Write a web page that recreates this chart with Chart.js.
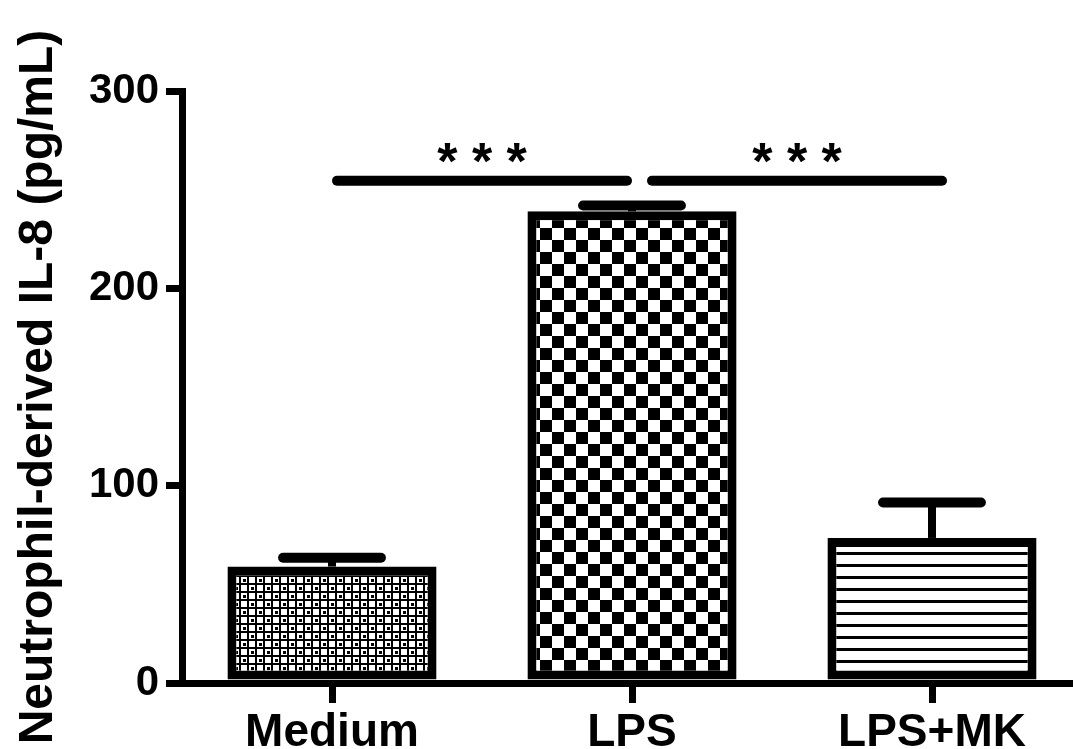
<!DOCTYPE html>
<html>
<head>
<meta charset="utf-8">
<script src="https://cdn.jsdelivr.net/npm/chart.js@4.4.1/dist/chart.umd.min.js"></script>
<style>
  html, body { margin: 0; padding: 0; background: #fff; overflow: hidden; width: 1073px; height: 749px; }
  canvas { display: block; }
</style>
</head>
<body>
<canvas id="chart" width="1100" height="749"></canvas>
<script>
// Group labels and measured IL-8 (mean and SEM, pg/mL)
const categories = ['Medium', 'LPS', 'LPS+MK'];
const meanValues = [59, 239, 73.5];
const semValues = [4.5, 3, 18];
const yTickValues = [0, 100, 200, 300];
// Pairwise comparisons (category indices) and their significance marks
const comparisons = [[0, 1], [1, 2]];
const comparisonLevel = 254.5;
const comparisonLabels = ['***', '***'];

const FONT = "'Liberation Sans', Arial, sans-serif";

function makeTile(w, h, paint) {
  const c = document.createElement('canvas');
  c.width = w; c.height = h;
  const g = c.getContext('2d');
  paint(g);
  return document.getElementById('chart').getContext('2d').createPattern(c, 'repeat');
}

// fine dotted grid
const finePattern = makeTile(16, 16, g => {
  g.fillStyle = '#000'; g.fillRect(0, 0, 16, 16);
  g.fillStyle = '#fff';
  [[0, 0], [8, 0], [0, 8], [8, 8]].forEach(([x, y]) => g.fillRect(x + 1, y + 1, 6, 6));
  g.fillStyle = '#000';
  [[0, 0], [8, 8]].forEach(([x, y]) => g.fillRect(x + 3, y + 3, 3, 3));
});
// coarse checkerboard
const checkerPattern = makeTile(24, 24, g => {
  g.fillStyle = '#fff'; g.fillRect(0, 0, 24, 24);
  g.fillStyle = '#000';
  g.fillRect(0, 0, 12, 12);
  g.fillRect(12, 12, 12, 12);
});
// horizontal hatching
const hatchPattern = makeTile(12, 12, g => {
  g.fillStyle = '#fff'; g.fillRect(0, 0, 12, 12);
  g.fillStyle = '#000'; g.fillRect(0, 0, 12, 3);
});

const errorBarsPlugin = {
  id: 'errorBars',
  afterDatasetsDraw(chart) {
    const { ctx, scales: { y } } = chart;
    const meta = chart.getDatasetMeta(0);
    ctx.save();
    ctx.strokeStyle = '#000';
    meanValues.forEach((m, i) => {
      const bar = meta.data[i];
      const cx = bar.x;
      const top = y.getPixelForValue(m);
      const end = y.getPixelForValue(m + semValues[i]);
      ctx.lineWidth = 8;
      ctx.lineCap = 'butt';
      ctx.beginPath();
      ctx.moveTo(cx, top);
      ctx.lineTo(cx, end);
      ctx.stroke();
      const half = bar.width * 0.234;
      ctx.lineWidth = 10;
      ctx.lineCap = 'round';
      ctx.beginPath();
      ctx.moveTo(cx - half, end);
      ctx.lineTo(cx + half, end);
      ctx.stroke();
    });
    ctx.restore();
  }
};

const significancePlugin = {
  id: 'significance',
  afterDraw(chart) {
    const { ctx, scales: { x, y } } = chart;
    const py = y.getPixelForValue(comparisonLevel);
    ctx.save();
    ctx.strokeStyle = '#000';
    ctx.fillStyle = '#000';
    ctx.lineWidth = 10;
    ctx.lineCap = 'round';
    comparisons.forEach(([a, b], k) => {
      const x1 = x.getPixelForValue(a) + 5 + 15 * k;
      const x2 = x.getPixelForValue(b) - 5 + 15 * k;
      ctx.beginPath();
      ctx.moveTo(x1, py);
      ctx.lineTo(x2, py);
      ctx.stroke();
      ctx.font = 'bold 52px ' + FONT;
      ctx.textAlign = 'center';
      ctx.textBaseline = 'alphabetic';
      ctx.fillText(comparisonLabels[k].split('').join(' '), (x1 + x2) / 2, py - 2);
    });
    ctx.restore();
  }
};

new Chart(document.getElementById('chart'), {
  type: 'bar',
  data: {
    labels: categories,
    datasets: [{
      data: meanValues,
      backgroundColor: [finePattern, checkerPattern, hatchPattern],
      borderColor: '#000',
      borderWidth: 9,
      borderSkipped: false,
      categoryPercentage: 1,
      barPercentage: 0.697
    }]
  },
  options: {
    responsive: false,
    animation: false,
    devicePixelRatio: 1,
    layout: { padding: { top: 91, right: 18, left: 0, bottom: 0 } },
    plugins: { legend: { display: false }, tooltip: { enabled: false } },
    scales: {
      x: {
        afterFit: s => { s.height = 66; },
        grid: { display: true, drawOnChartArea: false, offset: false, color: '#000', lineWidth: 7, tickLength: 20 },
        border: { display: true, color: '#000', width: 7 },
        ticks: { color: '#000', font: { family: FONT, size: 46, weight: 'bold' }, padding: 3, maxRotation: 0, autoSkip: false }
      },
      y: {
        min: 0,
        max: 300,
        afterFit: s => { s.width = 182; },
        afterBuildTicks: s => { s.ticks = yTickValues.map(v => ({ value: v })); },
        grid: { display: true, drawOnChartArea: false, color: '#000', lineWidth: 7, tickLength: 16 },
        border: { display: true, color: '#000', width: 7 },
        ticks: { color: '#000', font: { family: FONT, size: 42, weight: 'bold' }, padding: 7 },
        title: {
          display: true,
          text: 'Neutrophil-derived IL-8 (pg/mL)',
          color: '#000',
          font: { family: FONT, size: 48, weight: 'bold' },
          padding: { top: 10, bottom: 0 }
        }
      }
    }
  },
  plugins: [errorBarsPlugin, significancePlugin]
});
</script>
</body>
</html>
